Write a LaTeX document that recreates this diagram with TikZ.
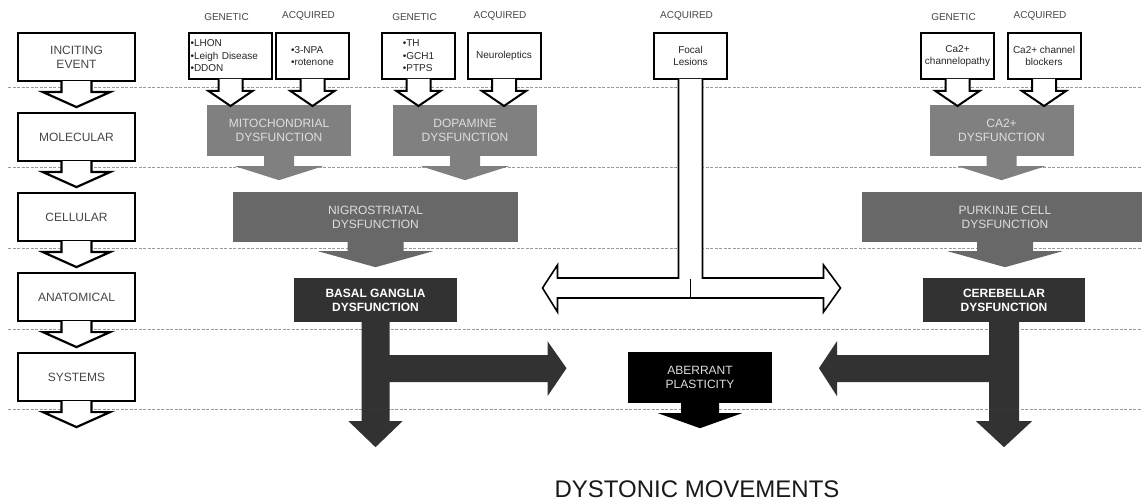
\documentclass[tikz,border=0pt]{standalone}
\usepackage{fontspec}
\setmainfont{Liberation Sans}
\usetikzlibrary{calc}

\definecolor{midgray}{RGB}{128,128,128}
\definecolor{cellgray}{RGB}{104,104,104}
\definecolor{anatgray}{RGB}{50,50,50}
\definecolor{txtgray}{RGB}{70,70,70}
\definecolor{paletxt}{RGB}{222,222,222}

% block arrow hanging below a node: style, node, stem half, wing half, stem length, head length
\newcommand{\blockarrow}[6]{%
  \filldraw[#1] ($(#2.south)+(-#3,-1)$) -- ++(0,#5+1) -- ++(#3-#4,0)
    -- ++(#4,#6) -- ++(#4,-#6) -- ++(#3-#4,0) -- ++(0,-#5-1);}

\begin{document}
\begin{tikzpicture}[x=1pt, y=-1pt,
  every node/.style={align=center, inner sep=0pt},
  stage/.style={draw, line width=2.2pt, fill=white, minimum width=117,
    minimum height=48, text=txtgray, font=\fontsize{12}{14}\selectfont},
  cause/.style={draw, line width=2pt, fill=white, minimum width=73,
    minimum height=46, text=black!85, font=\fontsize{10}{12.5}\selectfont},
  molec/.style={fill=midgray, minimum width=144, minimum height=51,
    text=paletxt, font=\fontsize{12}{14}\selectfont},
  cell/.style={fill=cellgray, minimum width=285, minimum height=50,
    text=paletxt, font=\fontsize{12}{14}\selectfont},
  anat/.style={fill=anatgray, minimum width=163, minimum height=44,
    text=white, font=\fontsize{12}{14}\selectfont\bfseries},
  outline/.style={draw, line width=2pt, fill=white},
  level/.style={draw=gray!80, line width=1pt, dash pattern=on 3pt off 1.5pt},
  tag/.style={label distance=11pt, xshift=-4pt, text=txtgray,
    font=\fontsize{10}{12}\selectfont}]
  \path[use as bounding box, fill=white] (0,0) rectangle (1142,502);

  % level separators
  \foreach \y in {88,168,249,329,409}
    \draw[level] (8,\y) -- (1142,\y);

  % left column
  \foreach \txt [count=\i from 0] in {{INCITING\\EVENT},MOLECULAR,CELLULAR,ANATOMICAL,SYSTEMS} {
    \node[stage] (stage\i) at (76.5,57+80*\i) {\txt};
    \blockarrow{outline, line width=2.2pt}{stage\i}{15}{33.5}{10}{15}
  }

  % inciting events
  \node[cause, minimum width=83, text width=80, align=left, inner xsep=1.5pt,
    label={[tag]above:GENETIC}] (lhon) at (230.5,56) {•LHON\\•Leigh Disease\\•DDON};
  \node[cause, align=left, label={[tag]above:ACQUIRED}] (npa) at (312.5,56) {•3-NPA\\•rotenone};
  \node[cause, align=left, label={[tag]above:GENETIC}] (th) at (418.5,56) {•TH\\•GCH1\\•PTPS};
  \node[cause, label={[tag]above:ACQUIRED}] (neuro) at (504,56) {Neuroleptics};
  \node[cause, label={[tag]above:ACQUIRED}] (focal) at (690.5,56) {Focal\\Lesions};
  \node[cause, label={[tag]above:GENETIC}] (chan) at (957.5,56) {Ca2+\\channelopathy};
  \node[cause, label={[tag]above:ACQUIRED}] (block) at (1044,56) {Ca2+ channel\\blockers};

  % molecular
  \node[molec] (mito) at (279,130.5) {MITOCHONDRIAL\\DYSFUNCTION};
  \node[molec] (dopa) at (465,130.5) {DOPAMINE\\DYSFUNCTION};
  \node[molec] (cadys) at (1001.5,130.5) {CA2+\\DYSFUNCTION};
  \foreach \c in {lhon,npa,th,neuro,chan,block}
    {\blockarrow{outline}{\c}{12}{22}{11}{15}}

  % cellular
  \node[cell] (nigro) at (375.5,217) {NIGROSTRIATAL\\DYSFUNCTION};
  \node[cell, minimum width=286] (purk) at (1005,217) {PURKINJE CELL\\DYSFUNCTION};
  \foreach \m in {mito,dopa,cadys}
    {\blockarrow{fill=midgray, draw=none}{\m}{15}{44}{10}{14}}

  % anatomical
  \node[anat] (basal) at (375.5,300) {BASAL GANGLIA\\DYSFUNCTION};
  \node[anat, minimum width=162] (cereb) at (1004,300) {CEREBELLAR\\DYSFUNCTION};
  \foreach \c in {nigro,purk}
    {\blockarrow{fill=cellgray, draw=none}{\c}{28}{57.5}{9}{16}}

  % focal lesions reach both sides
  \filldraw[outline, line width=1.6pt] ($(focal.south)+(-12,-1)$) -- ++(0,199)
    -- ++(-121,0) -- ++(0,-13) -- ++(-15,23) -- ++(15,24) -- ++(0,-14)
    -- ++(266,0) -- ++(0,14) -- ++(17,-24) -- ++(-17,-23) -- ++(0,13)
    -- ++(-121,0) -- ++(0,-199);
  \draw[line width=1.6pt] ($(focal.south)+(0,199)$) -- ++(0,20);

  % systems
  \node[molec, fill=black] (aberr) at (700,377.5) {ABERRANT\\PLASTICITY};
  \blockarrow{fill=black, draw=none}{aberr}{19}{42}{10}{15}
  \fill[anatgray] ($(basal.south)+(-14,-1)$) -- ++(28,0) -- ++(0,34) -- ++(158,0)
    -- ++(0,-14) -- ++(19,27) -- ++(-19,28) -- ++(0,-14) -- ++(-158,0)
    -- ++(0,39) -- ++(13,0) -- ++(-27,26) -- ++(-27,-26) -- ++(13,0) -- cycle;
  \fill[anatgray] ($(cereb.south)+(15,-1)$) -- ++(-30,0) -- ++(0,34) -- ++(-152,0)
    -- ++(0,-14) -- ++(-18,27) -- ++(18,28) -- ++(0,-14) -- ++(152,0)
    -- ++(0,39) -- ++(-13,0) -- ++(28,26) -- ++(28,-26) -- ++(-13,0) -- cycle;
  % separator shows through the two dark stems
  \draw[level, draw=gray!45!black] ($(basal.south)+(-14,87)$) -- ++(28,0);
  \draw[level, draw=gray!45!black] ($(cereb.south)+(-15,87)$) -- ++(30,0);

  \node[font=\fontsize{24}{28}\selectfont, text=black!90] (dyst) at (697,489.5) {DYSTONIC MOVEMENTS};
\end{tikzpicture}
\end{document}
